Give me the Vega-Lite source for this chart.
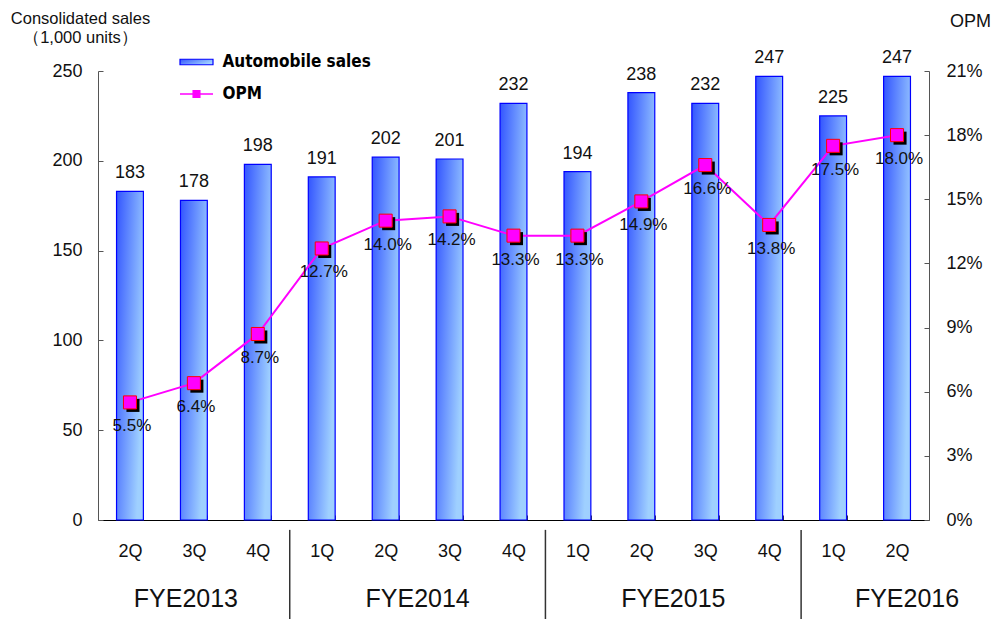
{
  "$schema": "https://vega.github.io/schema/vega-lite/v6.json",
  "width": 831,
  "height": 449,
  "autosize": "none",
  "padding": {"left": 98, "top": 71, "right": 66, "bottom": 99},
  "background": "white",
  "config": {
    "view": {"stroke": null},
    "font": "Liberation Sans",
    "axis": {"grid": false, "domainColor": "#555555", "tickColor": "#555555", "labelColor": "#111111", "titleColor": "#111111", "titleFontWeight": "normal"}
  },
  "datasets": {
    "main": [
      {"key": "2013-2Q", "sales": 183, "opm": 5.5},
      {"key": "2013-3Q", "sales": 178, "opm": 6.4},
      {"key": "2013-4Q", "sales": 198, "opm": 8.7},
      {"key": "2014-1Q", "sales": 191, "opm": 12.7},
      {"key": "2014-2Q", "sales": 202, "opm": 14.0},
      {"key": "2014-3Q", "sales": 201, "opm": 14.2},
      {"key": "2014-4Q", "sales": 232, "opm": 13.3},
      {"key": "2015-1Q", "sales": 194, "opm": 13.3},
      {"key": "2015-2Q", "sales": 238, "opm": 14.9},
      {"key": "2015-3Q", "sales": 232, "opm": 16.6},
      {"key": "2015-4Q", "sales": 247, "opm": 13.8},
      {"key": "2016-1Q", "sales": 225, "opm": 17.5},
      {"key": "2016-2Q", "sales": 247, "opm": 18.0}
    ],
    "seps": [{"key": "2014-1Q"}, {"key": "2015-1Q"}, {"key": "2016-1Q"}]
  },
  "data": {"name": "main"},
  "encoding": {
    "x": {
      "field": "key", "type": "nominal", "sort": null,
      "scale": {"paddingInner": 0.58, "paddingOuter": 0.29},
      "axis": {
        "title": null, "orient": "bottom", "labelAngle": 0,
        "labelExpr": "split(datum.value, '-')[1]",
        "labelFontSize": 18, "labelFont": "Liberation Sans", "labelPadding": 27,
        "tickBand": "extent", "tickSize": -5, "domainColor": "#000000", "tickColor": "#333333"
      }
    }
  },
  "layer": [
    {
      "layer": [
        {
          "mark": {
            "type": "bar", "strokeWidth": 1.2,
            "fill": {"gradient": "linear", "x1": 0, "y1": 0, "x2": 1, "y2": 0.5,
              "stops": [{"offset": 0, "color": "#3355ff"}, {"offset": 1, "color": "#9fd0ff"}]}
          },
          "encoding": {
            "y": {"field": "sales", "type": "quantitative", "scale": {"domain": [0, 250]},
              "axis": {"values": [0, 50, 100, 150, 200, 250], "labelFontSize": 18, "labelPadding": 21, "tickSize": -5,
                "title": ["Consolidated sales", "（1,000 units）"], "titleFontSize": 16.5, "titleAngle": 0,
                "titleAlign": "center", "titleBaseline": "alphabetic", "titleX": -18, "titleY": -48, "titleLineHeight": 19}},
            "stroke": {"datum": "Automobile sales", "type": "nominal",
              "scale": {"range": ["#0000ff"]},
              "legend": {
                "title": null, "orient": "none", "legendX": 86.5, "legendY": -21,
                "symbolType": "M-1.5,-0.25H1.5V0.25H-1.5Z", "symbolSize": 484, "symbolStrokeWidth": 1.2,
                "labelFontSize": 17, "labelFontWeight": "bold", "labelFont": "DejaVu Sans Condensed", "labelColor": "#000000", "labelOffset": 14,
                "encode": {"symbols": {"update": {"fill": {"value": {"gradient": "linear", "x1": 0, "y1": 0, "x2": 1, "y2": 0.5,
                  "stops": [{"offset": 0, "color": "#3355ff"}, {"offset": 1, "color": "#9fd0ff"}]}}, "fillOpacity": {"value": 1}}}}
              }}
          }
        },
        {
          "mark": {"type": "text", "fontSize": 18, "dy": -18, "baseline": "middle", "color": "#111111"},
          "encoding": {
            "y": {"field": "sales", "type": "quantitative", "scale": {"domain": [0, 250]}},
            "text": {"field": "sales", "type": "quantitative"}
          }
        },
        {
          "data": {"name": "seps"},
          "mark": {"type": "rule", "color": "#333333", "strokeWidth": 1.5, "xOffset": -32},
          "encoding": {
            "y": {"datum": -5.5, "type": "quantitative", "scale": {"domain": [0, 250]}},
            "y2": {"datum": -56}
          }
        },
        {
          "data": {"values": [{"key": "2013-3Q", "year": "FYE2013"}]},
          "mark": {"type": "text", "fontSize": 25, "baseline": "middle", "color": "#111111", "dx": -8},
          "encoding": {
            "y": {"datum": -44, "type": "quantitative", "scale": {"domain": [0, 250]}},
            "text": {"field": "year"}
          }
        },
        {
          "data": {"values": [{"key": "2014-2Q", "year": "FYE2014"}, {"key": "2015-2Q", "year": "FYE2015"}]},
          "mark": {"type": "text", "fontSize": 25, "baseline": "middle", "color": "#111111", "dx": 32},
          "encoding": {
            "y": {"datum": -44, "type": "quantitative", "scale": {"domain": [0, 250]}},
            "text": {"field": "year"}
          }
        },
        {
          "data": {"values": [{"key": "2016-2Q", "year": "FYE2016"}]},
          "mark": {"type": "text", "fontSize": 25, "baseline": "middle", "color": "#111111", "dx": 10},
          "encoding": {
            "y": {"datum": -44, "type": "quantitative", "scale": {"domain": [0, 250]}},
            "text": {"field": "year"}
          }
        }
      ]
    },
    {
      "layer": [
        {
          "mark": {"type": "line", "strokeWidth": 2},
          "encoding": {
            "y": {"field": "opm", "type": "quantitative", "scale": {"domain": [0, 21]},
              "axis": {"orient": "right", "values": [0, 3, 6, 9, 12, 15, 18, 21], "labelExpr": "datum.value + '%'",
                "labelFontSize": 18, "labelPadding": 22, "tickSize": -5,
                "title": "OPM", "titleFontSize": 18, "titleAngle": 0, "titleAlign": "center", "titleBaseline": "alphabetic",
                "titleX": 41, "titleY": -45}},
            "color": {"datum": "OPM", "type": "nominal", "scale": {"range": ["#ff00ff"]},
              "legend": {
                "title": null, "orient": "none", "legendX": 86.5, "legendY": 11,
                "symbolType": "M-1.5,0H-0.3M0.3,0H1.5M-0.3,-0.3H0.3V0.3H-0.3Z", "symbolSize": 484, "symbolStrokeWidth": 1.5,
                "labelFontSize": 17, "labelFontWeight": "bold", "labelFont": "DejaVu Sans Condensed", "labelColor": "#000000", "labelOffset": 14,
                "encode": {"symbols": {"update": {"fill": {"value": "#ff00ff"}, "fillOpacity": {"value": 1}, "stroke": {"value": "#ff00ff"}}}}
              }}
          }
        },
        {
          "mark": {"type": "point", "shape": "square", "size": 170, "filled": true, "color": "#000000", "opacity": 1, "xOffset": 3, "yOffset": 3},
          "encoding": {"y": {"field": "opm", "type": "quantitative", "scale": {"domain": [0, 21]}}}
        },
        {
          "mark": {"type": "point", "shape": "square", "size": 170, "filled": true, "fill": "#ff00ff", "stroke": "#ff0000", "strokeWidth": 1, "opacity": 1},
          "encoding": {"y": {"field": "opm", "type": "quantitative", "scale": {"domain": [0, 21]}}}
        },
        {
          "mark": {"type": "text", "fontSize": 17, "dy": 24, "dx": 2, "baseline": "middle", "color": "#111111",
            "text": {"expr": "format(datum.opm, '.1f') + '%'"}},
          "encoding": {
            "y": {"field": "opm", "type": "quantitative", "scale": {"domain": [0, 21]}}
          }
        }
      ]
    }
  ],
  "resolve": {"scale": {"y": "independent"}}
}
